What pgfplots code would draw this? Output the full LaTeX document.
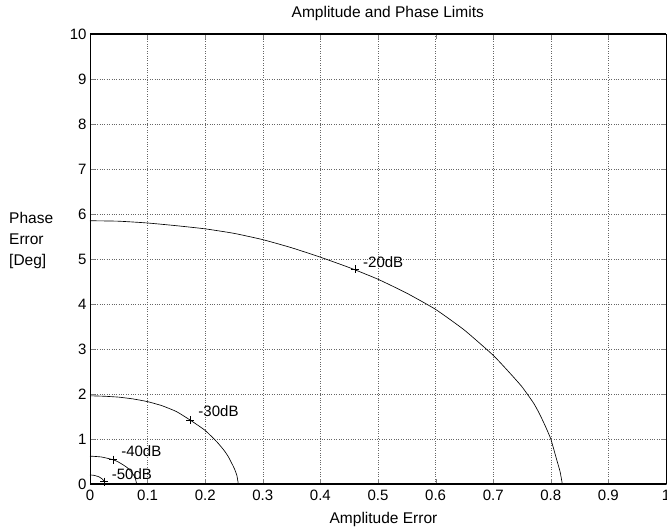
\documentclass[border=0pt]{standalone}
\usepackage{fontspec}
\setmainfont{Liberation Sans}
\usepackage{pgfplots}
\pgfplotsset{compat=1.18}
\begin{document}
\begin{tikzpicture}
\begin{axis}[
  scale only axis, width=576bp, height=450bp,
  xmin=0, xmax=1, ymin=0, ymax=10,
  xtick={0,0.1,0.2,0.3,0.4,0.5,0.6,0.7,0.8,0.9,1},
  ytick={0,1,2,3,4,5,6,7,8,9,10},
  grid=major, major grid style={dotted, black!60, line width=0.5pt},
  tick align=inside, major tick length=5bp,
  separate axis lines,
  x axis line style={line width=1.4pt},
  y axis line style={line width=0.7pt},
  /pgf/number format/assume math mode=true,
  ticklabel style={font=\fontsize{15bp}{18bp}\selectfont},
  xticklabel style={yshift=-3bp},
  title={Amplitude and Phase Limits},
  title style={font=\fontsize{15.5bp}{18bp}\selectfont, at={(axis description cs:0.517,1.0238)}, anchor=base},
  xlabel={Amplitude Error},
  xlabel style={font=\fontsize{15.5bp}{18bp}\selectfont, at={(axis description cs:0.5095,-0.0873)}, anchor=base},
  clip=false,
]
% -20 dB
\addplot[black, line width=0.65pt, smooth, tension=0.3] coordinates {
  (0,5.85) (0.05,5.84) (0.1,5.80) (0.15,5.74) (0.2,5.67) (0.25,5.57) (0.3,5.43)
  (0.35,5.25) (0.4,5.04) (0.45,4.81) (0.5,4.55) (0.55,4.24) (0.6,3.88) (0.65,3.42)
  (0.7,2.86) (0.73,2.45) (0.75,2.16) (0.77,1.80) (0.78,1.57) (0.79,1.30) (0.8,1.0)
  (0.81,0.55) (0.816,0.28) (0.82,0)};
% -30 dB
\addplot[black, line width=0.65pt, smooth, tension=0.3] coordinates {
  (0,1.96) (0.025,1.95) (0.05,1.93) (0.075,1.89) (0.1,1.83) (0.125,1.74) (0.15,1.61)
  (0.174,1.42) (0.2,1.19) (0.22,0.94) (0.232,0.76) (0.24,0.61) (0.25,0.36)
  (0.255,0.19) (0.2575,0)};
% -40 dB
\addplot[black, line width=0.65pt, smooth, tension=0.3] coordinates {
  (0,0.62) (0.02,0.60) (0.04,0.54) (0.049,0.49) (0.057,0.43) (0.065,0.36)
  (0.073,0.25) (0.077,0.17) (0.079,0.11) (0.081,0)};
% -50 dB
\addplot[black, line width=0.65pt, smooth, tension=0.3] coordinates {
  (0,0.2) (0.0065,0.194) (0.013,0.171) (0.016,0.157) (0.018,0.14) (0.021,0.115)
  (0.0234,0.08) (0.0247,0.054) (0.0254,0.034) (0.026,0)};
% markers
\addplot[only marks, mark=+, mark size=4bp, black, mark options={line width=0.6pt}] coordinates {
  (0.46,4.78) (0.174,1.42) (0.04,0.54) (0.0245,0.055)};
\node[anchor=west, inner sep=0pt, font=\fontsize{15bp}{17bp}\selectfont] at (axis cs:0.474,4.93) {-20dB};
\node[anchor=west, inner sep=0pt, font=\fontsize{15bp}{17bp}\selectfont] at (axis cs:0.188,1.61) {-30dB};
\node[anchor=west, inner sep=0pt, font=\fontsize{15bp}{17bp}\selectfont] at (axis cs:0.054,0.74) {-40dB};
\node[anchor=west, inner sep=0pt, font=\fontsize{15bp}{17bp}\selectfont] at (axis cs:0.0377,0.215) {-50dB};
\node[anchor=west, inner sep=0pt, align=left, font=\fontsize{15.5bp}{21bp}\selectfont] at (axis description cs:-0.1406,0.5422) {Phase\\Error\\{[Deg]}};
\coordinate (bl) at (rel axis cs:0,0);
\coordinate (tr) at (rel axis cs:1,1);
\end{axis}
\pgfresetboundingbox
\path ([shift={(-90bp,-45bp)}]bl) rectangle ([shift={(1bp,34bp)}]tr);
\end{tikzpicture}
\end{document}
